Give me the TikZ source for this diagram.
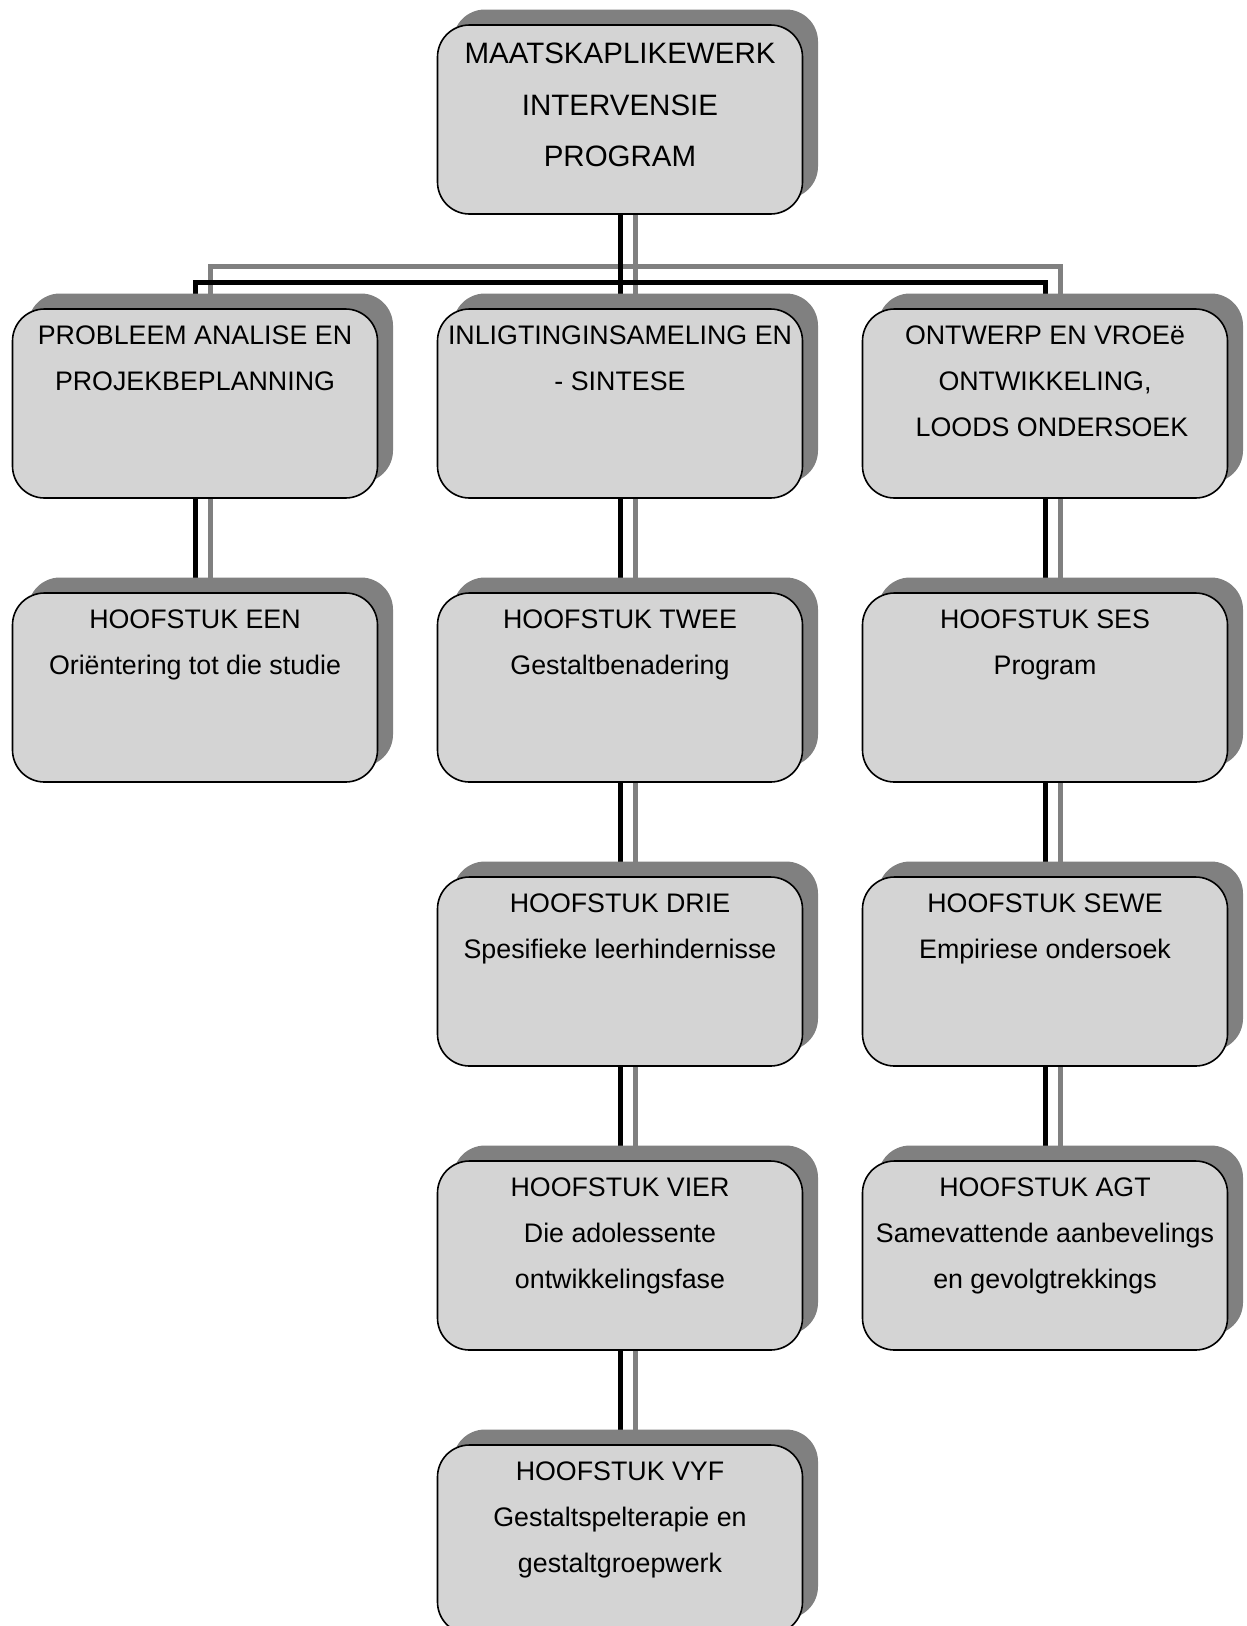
\documentclass[tikz,border=0pt]{standalone}
\usepackage{fontspec}
\setmainfont{Liberation Sans}
\usetikzlibrary{shadows,backgrounds,calc}
\definecolor{boxfill}{RGB}{212,212,212}
\definecolor{shadowgray}{RGB}{128,128,128}
\tikzset{
 boxst/.style={draw=black, line width=1.6pt, fill=boxfill, rounded corners=32pt,
   minimum width=365pt, minimum height=189pt, inner sep=0pt, outer sep=0pt,
   general shadow={shadow xshift=15.5pt, shadow yshift=15.5pt, fill=shadowgray, draw=none}},
 txt/.style={anchor=north, inner sep=0pt, align=center, font=\fontsize{26.8}{45.8}\selectfont},
 bigtxt/.style={anchor=north, inner sep=0pt, align=center, font=\fontsize{29.5}{51.5}\selectfont},
 blk/.style={line width=5pt, draw=black},
 gry/.style={line width=5pt, draw=shadowgray},
}
\begin{document}
\begin{tikzpicture}[x=1pt,y=-1pt]
\useasboundingbox (0,0) rectangle (1247,1626);
% top
\node[boxst] (main) at (620,119.5) {};
\node[bigtxt] (mainT) at ([yshift=-2.3pt]main.north) {\strut MAATSKAPLIKEWERK\\INTERVENSIE\\PROGRAM};
% row 2
\node[boxst] (a2) at (195,403.5) {};
\node[txt] (a2T) at ([yshift=-3.2pt]a2.north) {\strut PROBLEEM ANALISE EN\\PROJEKBEPLANNING};
\node[boxst] (b2) at (620,403.5) {};
\node[txt] (b2T) at ([yshift=-3.2pt]b2.north) {\strut INLIGTINGINSAMELING EN\\- SINTESE};
\node[boxst] (c2) at (1045,403.5) {};
\node[txt] (c2T) at ([yshift=-3.2pt]c2.north) {\strut ONTWERP EN VROEë\\ONTWIKKELING,\\\hspace*{14pt}LOODS ONDERSOEK};
% row 3
\node[boxst] (a3) at (195,687.5) {};
\node[txt] (a3T) at ([yshift=-3.2pt]a3.north) {\strut HOOFSTUK EEN\\Oriëntering tot die studie};
\node[boxst] (b3) at (620,687.5) {};
\node[txt] (b3T) at ([yshift=-3.2pt]b3.north) {\strut HOOFSTUK TWEE\\Gestaltbenadering};
\node[boxst] (c3) at (1045,687.5) {};
\node[txt] (c3T) at ([yshift=-3.2pt]c3.north) {\strut HOOFSTUK SES\\Program};
% row 4
\node[boxst] (b4) at (620,971.5) {};
\node[txt] (b4T) at ([yshift=-3.2pt]b4.north) {\strut HOOFSTUK DRIE\\Spesifieke leerhindernisse};
\node[boxst] (c4) at (1045,971.5) {};
\node[txt] (c4T) at ([yshift=-3.2pt]c4.north) {\strut HOOFSTUK SEWE\\Empiriese ondersoek};
% row 5
\node[boxst] (b5) at (620,1255.5) {};
\node[txt] (b5T) at ([yshift=-3.2pt]b5.north) {\strut HOOFSTUK VIER\\Die adolessente\\ontwikkelingsfase};
\node[boxst] (c5) at (1045,1255.5) {};
\node[txt] (c5T) at ([yshift=-3.2pt]c5.north) {\strut HOOFSTUK AGT\\Samevattende aanbevelings\\en gevolgtrekkings};
% row 6
\node[boxst] (b6) at (620,1539.5) {};
\node[txt] (b6T) at ([yshift=-3.2pt]b6.north) {\strut HOOFSTUK VYF\\Gestaltspelterapie en\\gestaltgroepwerk};
% connectors
\begin{pgfonlayer}{background}
\coordinate (hb) at (0,282);
\coordinate (hg) at (0,266);
\draw[gry] ($(main.center)+(15.5,0)$) -- ($(b2.center)+(15.5,0)$);
\draw[gry] ($(a2.center)+(15.5,0)$) -- ($(a2 |- hg)+(15.5,0)$) -- ($(c2 |- hg)+(15.5,0)$) -- ($(c2.center)+(15.5,0)$);
\draw[gry] ($(a2.center)+(15.5,0)$) -- ($(a3.center)+(15.5,0)$);
\draw[gry] ($(b2.center)+(15.5,0)$) -- ($(b6.center)+(15.5,0)$);
\draw[gry] ($(c2.center)+(15.5,0)$) -- ($(c5.center)+(15.5,0)$);
\draw[blk] (main.center) -- (b2.center);
\draw[blk] (a2.center) -- (a2 |- hb) -- (c2 |- hb) -- (c2.center);
\draw[blk] (a2.center) -- (a3.center);
\draw[blk] (b2.center) -- (b3.center) -- (b4.center) -- (b5.center) -- (b6.center);
\draw[blk] (c2.center) -- (c3.center) -- (c4.center) -- (c5.center);
\end{pgfonlayer}
\end{tikzpicture}
\end{document}
